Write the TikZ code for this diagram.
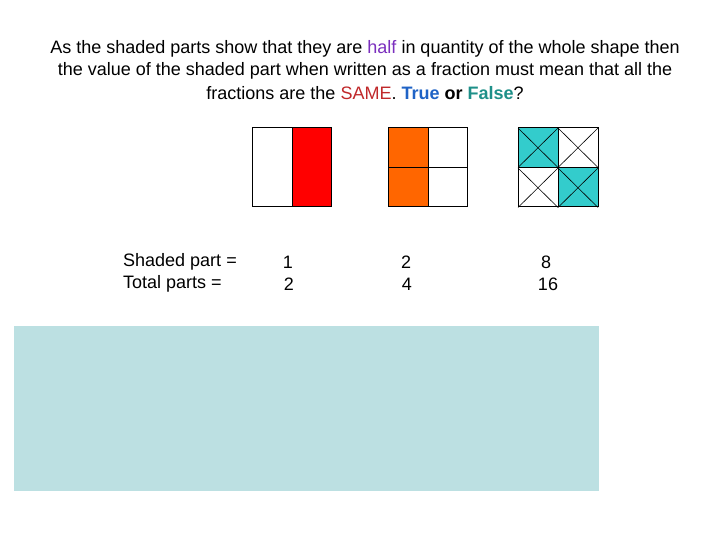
\documentclass[tikz,border=0pt]{standalone}
\usepackage{fontspec}
\setmainfont{Liberation Sans}
\definecolor{halfc}{HTML}{7B2FBE}
\definecolor{samec}{HTML}{C0282A}
\definecolor{truec}{HTML}{1F63C6}
\definecolor{falsec}{HTML}{1E9089}
\definecolor{redfill}{HTML}{FF0000}
\definecolor{orangefill}{HTML}{FF6600}
\definecolor{tealfill}{HTML}{33CCCC}
\definecolor{boxfill}{HTML}{BCE0E2}
\begin{document}
\begin{tikzpicture}[x=1pt,y=-1pt,
  txt/.style={inner sep=0pt,font=\fontsize{18}{21}\selectfont},
  cell/.style={draw=black,line width=1pt},
  thin/.style={draw=black,line width=0.6pt}]
\useasboundingbox (0,0) rectangle (720,540);
\fill[white] (0,0) rectangle (720,540);
% title
\node[txt] (t1) at (365,49) {As the shaded parts show that they are \textcolor{halfc}{half} in quantity of the whole shape then};
\node[txt] (t2) at (365,71) {the value of the shaded part when written as a fraction must mean that all the};
\node[txt] (t3) at (365,93) {fractions are the \textcolor{samec}{SAME}. \textbf{\textcolor{truec}{True} or \textcolor{falsec}{False}}?};
% shape 1
\fill[redfill] (292,128) rectangle (331,207);
\draw[cell] (252,128) rectangle (331,207);
\draw[cell] (292,128) -- (292,207);
% shape 2
\fill[orangefill] (388,128) rectangle (428,207);
\draw[cell] (388,128) rectangle (467,207);
\draw[cell] (428,128) -- (428,207);
\draw[cell] (388,168) -- (467,168);
% shape 3
\fill[tealfill] (518,128) rectangle (558,168);
\fill[tealfill] (558,168) rectangle (598,207);
\foreach \x/\y in {518/128,558/128,518/168,558/168}{
  \draw[thin] (\x,\y) -- ++(40,39.5);
  \draw[thin] (\x+40,\y) -- ++(-40,39.5);
}
\draw[cell] (518,128) rectangle (598,207);
\draw[cell] (558,128) -- (558,207);
\draw[cell] (518,168) -- (598,168);
% labels
\node[txt,anchor=west] (sp) at (123,262) {Shaded part =};
\node[txt,anchor=west] (tp) at (123,284) {Total parts =};
\node[txt] (n1) at (288,262) {1};
\node[txt] (d1) at (289,284) {2};
\node[txt] (n2) at (406,262) {2};
\node[txt] (d2) at (407,284) {4};
\node[txt] (n3) at (546,262) {8};
\node[txt] (d3) at (548,284) {16};
% answer box
\fill[boxfill] (14,326) rectangle (599,491);
\end{tikzpicture}
\end{document}
